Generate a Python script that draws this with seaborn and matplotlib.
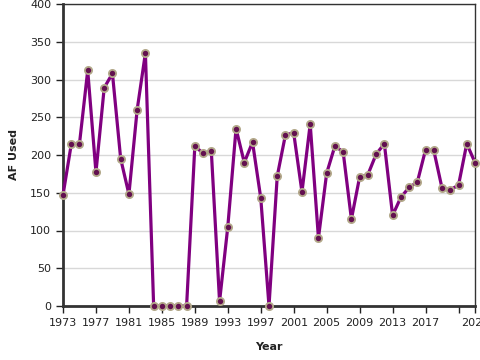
import numpy as np
import pandas as pd
import seaborn as sns
import matplotlib
matplotlib.use("Agg")
import matplotlib.pyplot as plt

years = list(range(1973, 2024))
af_used = [147, 214, 215, 312, 177, 289, 308, 195, 148, 260, 335,
           0, 0, 0, 0, 0,
           212, 202, 205, 6, 105, 235, 190, 217, 143, 0,
           172, 227, 229, 151, 241, 90, 176, 212, 204, 115,
           171, 174, 201, 215, 120, 144, 157, 164, 207, 206,
           156, 154, 160, 215, 190]

df = pd.DataFrame({"Year": years, "AF Used": af_used})

sns.set_style("white")
plt.rcParams['font.family'] = ['DejaVu Sans']

fig = plt.figure(figsize=(4.8, 3.6), dpi=100)
ax = fig.add_axes([63/480, 1 - 306/360, 412/480, 302/360])

ax.yaxis.grid(True, color='#d8d8d8', linewidth=1)
ax.set_axisbelow(True)

sns.lineplot(data=df, x="Year", y="AF Used", ax=ax, color='#800080', linewidth=2.3,
             marker='o', markersize=5.2, markerfacecolor='#62104f',
             markeredgecolor='#b3a98a', markeredgewidth=1.3, clip_on=False, zorder=3)

ax.set_xlim(1973, 2023)
ax.set_ylim(0, 400)
ax.set_yticks(range(0, 401, 50))
xt = list(range(1973, 2022, 4)) + [2023]
ax.set_xticks(xt)
ax.set_xticklabels([str(t) if t != 2021 else '' for t in xt])

ax.tick_params(axis='both', labelsize=8, colors='#222222', length=5, width=1,
               direction='out', bottom=True, left=True)
for s in ['left', 'bottom']:
    ax.spines[s].set_color('#333333')
    ax.spines[s].set_linewidth(2)
for s in ['top', 'right']:
    ax.spines[s].set_color('#333333')
    ax.spines[s].set_linewidth(1)

ax.set_xlabel("Year", fontsize=8, fontweight='bold', labelpad=10, color='#222222')
ax.set_ylabel("AF Used", fontsize=8, fontweight='bold', labelpad=8, color='#222222')

fig.savefig("out.png", dpi=100)
